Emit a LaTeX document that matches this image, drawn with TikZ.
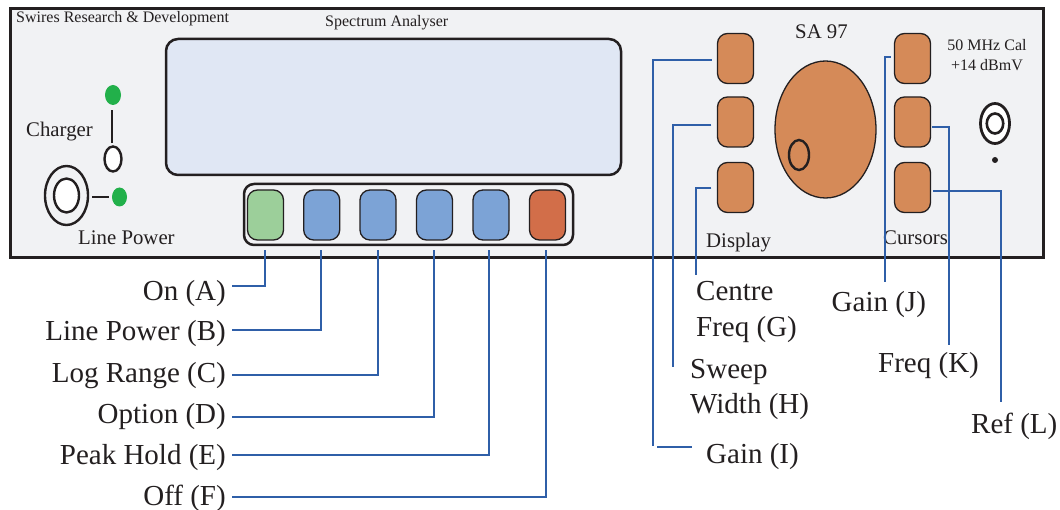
\documentclass[tikz,border=0pt]{standalone}
\usepackage{fontspec}
\setmainfont{Liberation Serif}
\usetikzlibrary{shapes.geometric}
\definecolor{panelbg}{HTML}{F1F2F4}
\definecolor{screenbg}{HTML}{E0E7F4}
\definecolor{ink}{HTML}{231F20}
\definecolor{leadblue}{HTML}{2F5FA8}
\definecolor{ledgreen}{HTML}{22B04A}
\definecolor{btnorange}{HTML}{D58A58}
\definecolor{btnblue}{HTML}{7CA3D6}
\definecolor{btngreen}{HTML}{9CCF9A}
\definecolor{btnred}{HTML}{D26E49}
\tikzset{
  fsize/.code={\fontsize{#1}{#1}\selectfont},
  btn/.style={draw=ink,line width=1.3pt,rounded corners=10pt,minimum width=36pt,minimum height=50pt,inner sep=0pt},
  orangebtn/.style={btn,fill=btnorange},
  bluebtn/.style={btn,fill=btnblue},
  oval/.style={ellipse,draw=ink,inner sep=0pt},
  led/.style={ellipse,fill=ledgreen,inner sep=0pt},
  lead/.style={draw=leadblue,line width=1.4pt},
  blk/.style={draw=ink,line width=2.2pt},
  biglabel/.style={text=ink,inner sep=0pt,fsize=29},
  midlabel/.style={text=ink,inner sep=0pt,fsize=20.8},
  smalllabel/.style={text=ink,inner sep=0pt,fsize=16},
}
\begin{document}
\begin{tikzpicture}[x=1pt,y=-1pt]
\useasboundingbox (0,0) rectangle (1060,510);
% panel
\node[draw=ink,line width=3pt,fill=panelbg,minimum width=1033pt,minimum height=249pt,inner sep=0pt] (panel) at (526.5,133.5) {};
\node[draw=ink,line width=2.5pt,fill=screenbg,rounded corners=12pt,minimum width=455pt,minimum height=136pt,inner sep=0pt] (screen) at (393.5,107) {};
\node[draw=ink,line width=2.5pt,rounded corners=10pt,minimum width=329pt,minimum height=61pt,inner sep=0pt] (tray) at (408.5,214.5) {};
% bottom buttons
\node[btn,fill=btngreen] (bA) at (265.5,215) {};
\node[bluebtn] (bB) at (321.7,215) {};
\node[bluebtn] (bC) at (378,215) {};
\node[bluebtn] (bD) at (434.5,215) {};
\node[bluebtn] (bE) at (491,215) {};
\node[btn,fill=btnred] (bF) at (547.5,215) {};
% side buttons
\node[orangebtn] (bI) at (735.5,58.5) {};
\node[orangebtn] (bH) at (735.5,122) {};
\node[orangebtn] (bG) at (735.5,187.5) {};
\node[orangebtn] (bJ) at (912.5,58.5) {};
\node[orangebtn] (bK) at (912.5,122) {};
\node[orangebtn] (bL) at (912.5,187.5) {};
% knob
\node[oval,fill=btnorange,line width=1.3pt,minimum width=101pt,minimum height=137pt] (knob) at (825.5,129.5) {};
\node[oval,line width=2.4pt,minimum width=20pt,minimum height=30pt] (knobdot) at (799,155) {};
% cal socket
\node[oval,fill=white,line width=2.8pt,minimum width=29pt,minimum height=40pt] (calout) at (995,123.5) {};
\node[oval,fill=white,line width=2.6pt,minimum width=16.5pt,minimum height=20pt] (calin) at (995,123.5) {};
\node[circle,fill=ink,inner sep=0pt,minimum size=6pt] (caldot) at (995,160) {};
% left indicators
\node[led,minimum width=16pt,minimum height=20pt] (ledtop) at (113,95) {};
\node[oval,fill=white,line width=2.4pt,minimum width=17pt,minimum height=25pt] (chg) at (113,159) {};
\node[oval,fill=panelbg,line width=2.4pt,minimum width=43pt,minimum height=59pt] (sockout) at (66.5,195.5) {};
\node[oval,fill=white,line width=2.4pt,minimum width=25pt,minimum height=34pt] (sockin) at (66.5,195.5) {};
\node[led,minimum width=15pt,minimum height=19pt] (ledlow) at (119.5,197) {};
\draw[blk,shorten <=5pt,shorten >=2pt] ([xshift=-1pt]ledtop.south) -- ([xshift=-1pt]chg.north);
\draw[blk,shorten <=3pt,shorten >=3pt] (sockout.east |- ledlow) -- (ledlow.west);
% panel text
\node[smalllabel,anchor=base west] (tSwires) at (16,23) {Swires Research \& Development};
\node[smalllabel,anchor=base west] (tSpec) at (325,26.5) {Spectrum Analyser};
\node[midlabel,anchor=base west] (tCharger) at (26,137) {Charger};
\node[midlabel,anchor=base west] (tLine) at (78,245) {Line Power};
\node[midlabel,anchor=base west] (tSA) at (795,39) {SA 97};
\node[midlabel,anchor=base west] (tDisplay) at (706,248) {Display};
\node[midlabel,anchor=base west] (tCursors) at (883,245) {Cursors};
\node[smalllabel,anchor=base] (tCal) at (987,51) {50 MHz Cal};
\node[smalllabel,anchor=base] (tdB) at (987,71) {+14 dBmV};
% outside labels
\node[biglabel,anchor=base east] (lA) at (226,300.5) {On (A)};
\node[biglabel,anchor=base east] (lB) at (226,341) {Line Power (B)};
\node[biglabel,anchor=base east] (lC) at (226,382) {Log Range (C)};
\node[biglabel,anchor=base east] (lD) at (226,423.5) {Option (D)};
\node[biglabel,anchor=base east] (lE) at (226,464.5) {Peak Hold (E)};
\node[biglabel,anchor=base east] (lF) at (226,505.5) {Off (F)};
\node[biglabel,anchor=base west] (lG1) at (696,301) {Centre};
\node[biglabel,anchor=base west] (lG) at (696,336.5) {Freq (G)};
\node[biglabel,anchor=base west] (lH1) at (690,378) {Sweep};
\node[biglabel,anchor=base west] (lH) at (690,413.5) {Width (H)};
\node[biglabel,anchor=base west] (lI) at (706,463.5) {Gain (I)};
\node[biglabel,anchor=base west] (lJ) at (831.5,312) {Gain (J)};
\node[biglabel,anchor=base west] (lK) at (878,373) {Freq (K)};
\node[biglabel,anchor=base west] (lL) at (971,433) {Ref (L)};
% leader free ends
\coordinate (eA) at (232,286);
\coordinate (eB) at (232,330);
\coordinate (eC) at (232,375);
\coordinate (eD) at (232,417);
\coordinate (eE) at (232,455);
\coordinate (eF) at (232,497);
\coordinate (eG) at (696,275);
\coordinate (eH) at (673,367);
\coordinate (eI) at (653,446);
\coordinate (eIa) at (657,447);
\coordinate (eIb) at (692,447);
\coordinate (eJ) at (885,282);
\coordinate (eK) at (949,345);
\coordinate (eL) at (1001,402);
% leaders
\draw[lead,shorten >=9pt] (eA) -| ([xshift=-0.5pt]bA.south);
\draw[lead,shorten >=9pt] (eB) -| ([xshift=-0.7pt]bB.south);
\draw[lead,shorten >=9pt] (eC) -| (bC.south);
\draw[lead,shorten >=9pt] (eD) -| ([xshift=-0.5pt]bD.south);
\draw[lead,shorten >=9pt] (eE) -| ([xshift=-2pt]bE.south);
\draw[lead,shorten >=9pt] (eF) -| ([xshift=-1.5pt]bF.south);
\draw[lead,shorten <=5pt] ([yshift=-1.5pt]bI.west) -| (eI);
\draw[lead] (eIa) -- (eIb);
\draw[lead,shorten <=5.5pt] ([yshift=-3pt]bH.west) -| (eH);
\draw[lead,shorten <=5.5pt] ([yshift=-0.5pt]bG.west) -| (eG);
\draw[lead,shorten <=3pt] ([yshift=1.5pt]bJ.west) -| (eJ);
\draw[lead,shorten <=1pt] ([yshift=-5pt]bK.east) -| (eK);
\draw[lead,shorten <=2pt] ([yshift=-3.5pt]bL.east) -| (eL);
\end{tikzpicture}
\end{document}
